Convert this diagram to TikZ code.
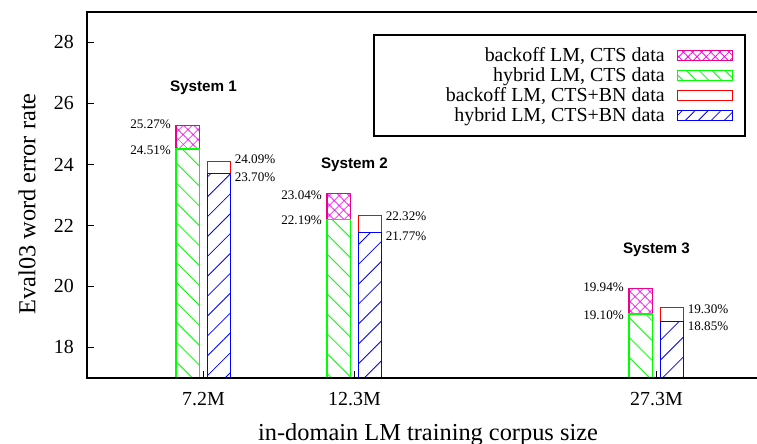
\documentclass[tikz,border=0pt]{standalone}
\usepackage{fontspec}
\setmainfont{Liberation Serif}
\newfontfamily\sysfont{Liberation Sans}
\usetikzlibrary{patterns.meta}
\tikzset{
	hybridcts/.style={draw=green, line width=1.1pt, pattern={Lines[angle=-45,distance=#1,line width=0.7pt]}, pattern color=green},
	hybridcts/.default=12pt,
	hybridbn/.style={draw=blue, line width=1.1pt, pattern={Lines[angle=45,distance=#1,line width=0.7pt]}, pattern color=blue},
	hybridbn/.default=12pt,
	backoffcts/.style={draw=magenta, line width=1.1pt, pattern={Hatch[angle=45,distance=#1,line width=0.7pt]}, pattern color=magenta},
	backoffcts/.default=6.5pt,
	backoffbn/.style={draw=red, line width=1.1pt},
	pct/.style={font=\fontsize{11.2}{13}\selectfont, inner sep=0pt},
	tick/.style={font=\fontsize{17}{20}\selectfont, inner sep=0pt},
	axlabel/.style={font=\fontsize{20.8}{25}\selectfont, inner sep=0pt},
	syslabel/.style={font=\sysfont\bfseries\fontsize{13}{15}\selectfont, inner sep=0pt}
}
% one group: (position)(backoff CTS : hybrid CTS : backoff CTS+BN : hybrid CTS+BN)
\def\bargroup(#1)(#2:#3:#4:#5){%
	\draw[backoffcts] (#1-0.182, #3) rectangle (#1-0.028, #2);
	\draw[hybridcts] (#1-0.182, 17) rectangle (#1-0.028, #3);
	\draw[backoffbn] (#1+0.026, #5) rectangle (#1+0.178, #4);
	\draw[hybridbn] (#1+0.026, 17) rectangle (#1+0.178, #5);
}

\begin{document}
\begin{tikzpicture}[x=4.53cm, y=0.915cm]
	%%%%% START %%%%%
	\useasboundingbox (-0.3477, 14.836) rectangle (4.6656, 29.393);
	
	\bargroup(1)(25.27:24.51:24.09:23.70)
	\bargroup(2)(23.04:22.19:22.32:21.77)
	\bargroup(4)(19.94:19.10:19.30:18.85)
	
	% frame
	\draw[line width=1.3pt] (4.8, 29) -- (0.2285, 29) -- (0.2285, 17) -- (4.8, 17);
	
	% y axis
	\foreach \v in {18,20,...,28} {
		\draw[line width=1pt] (0.2285, \v) -- ++(0.046, 0);
		\node[tick, anchor=east] (yt\v) at (0.142, \v) {\v};
	}
	
	% x axis
	\foreach \c/\lab in {1/7.2M, 2/12.3M, 4/27.3M} {
		\draw[line width=1pt] (\c, 17) -- ++(0, 0.23);
		\node[tick, anchor=base] (xt\c) at (\c, 16.09) {\lab};
	}
	
	\node[axlabel, rotate=90] (ylab) at (-0.169, 22.705) {Eval03 word error rate};
	\node[axlabel, anchor=base] (xlab) at (2.487, 14.934) {in-domain LM training corpus size};
	
	% system names
	\node[syslabel] (sys1) at (1, 26.51) {System 1};
	\node[syslabel] (sys2) at (2, 23.98) {System 2};
	\node[syslabel] (sys3) at (4, 21.2) {System 3};
	
	% values
	\node[pct, anchor=east] (v1a) at (0.785, 25.33) {25.27\%};
	\node[pct, anchor=east] (v1b) at (0.785, 24.48) {24.51\%};
	\node[pct, anchor=west] (v1c) at (1.206, 24.18) {24.09\%};
	\node[pct, anchor=west] (v1d) at (1.206, 23.58) {23.70\%};
	
	\node[pct, anchor=east] (v2a) at (1.785, 23.0) {23.04\%};
	\node[pct, anchor=east] (v2b) at (1.785, 22.18) {22.19\%};
	\node[pct, anchor=west] (v2c) at (2.206, 22.29) {22.32\%};
	\node[pct, anchor=west] (v2d) at (2.206, 21.66) {21.77\%};
	
	\node[pct, anchor=east] (v3a) at (3.785, 19.97) {19.94\%};
	\node[pct, anchor=east] (v3b) at (3.785, 19.07) {19.10\%};
	\node[pct, anchor=west] (v3c) at (4.206, 19.26) {19.30\%};
	\node[pct, anchor=west] (v3d) at (4.206, 18.68) {18.85\%};
	
	% legend
	\draw[line width=1.3pt] (2.129, 24.934) rectangle (4.586, 28.246);
	\draw[backoffcts=5.5pt] (4.137, 27.403) rectangle (4.504, 27.731);
	\draw[hybridcts=7.8pt] (4.137, 26.747) rectangle (4.504, 27.075);
	\draw[backoffbn] (4.137, 26.088) rectangle (4.504, 26.416);
	\draw[hybridbn=7.8pt] (4.137, 25.446) rectangle (4.504, 25.774);
	\node[tick, anchor=base east] (leg1) at (4.056, 27.373) {backoff LM, CTS data};
	\node[tick, anchor=base east] (leg2) at (4.056, 26.717) {hybrid LM, CTS data};
	\node[tick, anchor=base east] (leg3) at (4.056, 26.058) {backoff LM, CTS+BN data};
	\node[tick, anchor=base east] (leg4) at (4.056, 25.416) {hybrid LM, CTS+BN data};
	
	%%%%% END %%%%%
\end{tikzpicture}
\end{document}
